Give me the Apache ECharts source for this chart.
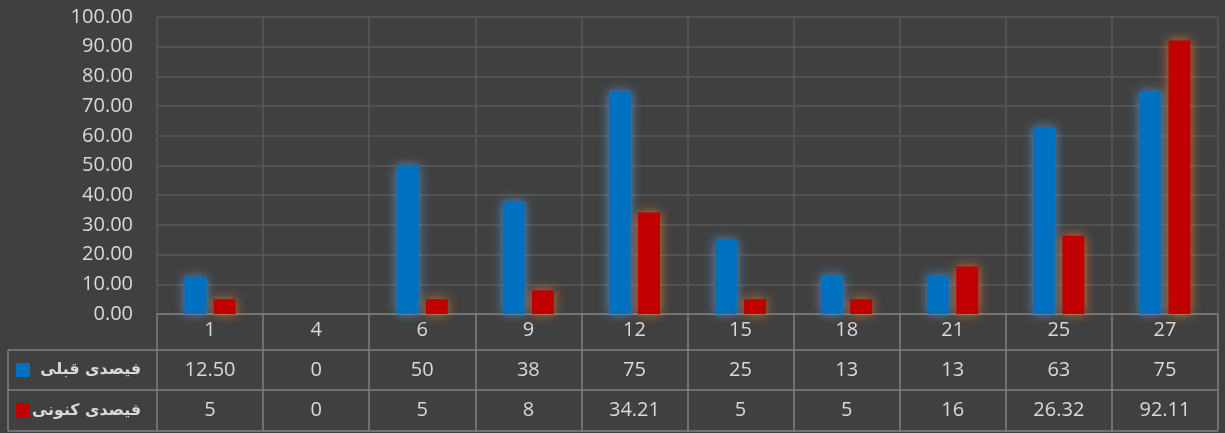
<!DOCTYPE html>
<html><head><meta charset="utf-8">
<script src="https://cdn.jsdelivr.net/npm/echarts@6/dist/echarts.min.js"></script>
<style>html,body{margin:0;padding:0;background:#404040}#c{width:1225px;height:433px}</style>
</head><body><div id="c"></div>
<script>
const categories = ['1','4','6','9','12','15','18','21','25','27'];
const seriesNames = ['فیصدی قبلی','فیصدی کنونی'];
const beforeValues = [12.5,0,50,38,75,25,13,13,63,75];
const currentValues = [5,0,5,8,34.21,5,5,16,26.32,92.11];
const beforeLabels = ['12.50','0','50','38','75','25','13','13','63','75'];
const currentLabels = ['5','0','5','8','34.21','5','5','16','26.32','92.11'];
const yTicks = {min:0,max:100,interval:10};

const txt = '#d9d9d9', grid = '#595959', tbl = '#808080';
const FONT = '"Open Sans", "Noto Sans", sans-serif';
const chart = echarts.init(document.getElementById('c'));
const G = {left:157, right:7, top:17, bottom:119};
const rowY = [314, 350, 390, 431];
const tableLeft = 8, tableRight = 1218;
function xAxisRow(data, offset){
  return {type:'category', data:data, position:'bottom', offset:offset, gridIndex:0,
    axisLine:{show:false}, axisTick:{show:false}, splitLine:{show:false},
    axisLabel:{show:true, color:txt, fontSize:20, fontFamily:FONT, margin:8, interval:0}};
}
const hLine = y => ({type:'line', shape:{x1:tableLeft, y1:y, x2:tableRight, y2:y}, style:{stroke:tbl, lineWidth:1.5}});
const legendText = (name, y) => ({type:'text', x:141, y:y,
  style:{text:name, fill:txt, align:'right', verticalAlign:'middle',
    font:'bold 15.8px "DejaVu Sans", sans-serif'}});
chart.setOption({
  backgroundColor:'#404040',
  animation:false,
  grid:G,
  legend:{orient:'vertical', left:16, top:363, padding:0, itemGap:26, itemWidth:14, itemHeight:14,
    icon:'rect', data:seriesNames, formatter:()=>'', itemStyle:{shadowBlur:0}},
  xAxis:[
    {type:'category', data:categories,
      axisLine:{show:true, lineStyle:{color:tbl, width:1.5}},
      axisTick:{show:true, interval:0, length:117, lineStyle:{color:tbl, width:1.5}},
      splitLine:{show:true, interval:0, lineStyle:{color:grid, width:1.5}},
      axisLabel:{color:txt, fontSize:20, fontFamily:FONT, margin:6, interval:0}},
    xAxisRow(beforeLabels, 38),
    xAxisRow(currentLabels, 78)
  ],
  yAxis:{type:'value', min:yTicks.min, max:yTicks.max, interval:yTicks.interval,
    axisLine:{show:false}, axisTick:{show:false},
    splitLine:{show:true, lineStyle:{color:grid, width:1.5}},
    axisLabel:{color:txt, fontSize:20, fontFamily:FONT, margin:24, formatter:v=>v.toFixed(2)}},
  series:[
    {name:seriesNames[0], type:'bar', data:beforeValues, barWidth:22, barGap:'32%',
      itemStyle:{color:'#0070C0', shadowBlur:12, shadowColor:'rgba(91,155,213,0.85)'}},
    {name:seriesNames[1], type:'bar', data:currentValues, barWidth:22,
      itemStyle:{color:'#C00000', shadowBlur:12, shadowColor:'rgba(237,125,49,0.85)'}}
  ],
  graphic:[
    hLine(rowY[1]), hLine(rowY[2]), hLine(rowY[3]),
    {type:'line', shape:{x1:tableLeft, y1:rowY[1], x2:tableLeft, y2:rowY[3]}, style:{stroke:tbl, lineWidth:1.5}},
    legendText(seriesNames[0], 370),
    legendText(seriesNames[1], 411)
  ]
});
</script></body></html>
